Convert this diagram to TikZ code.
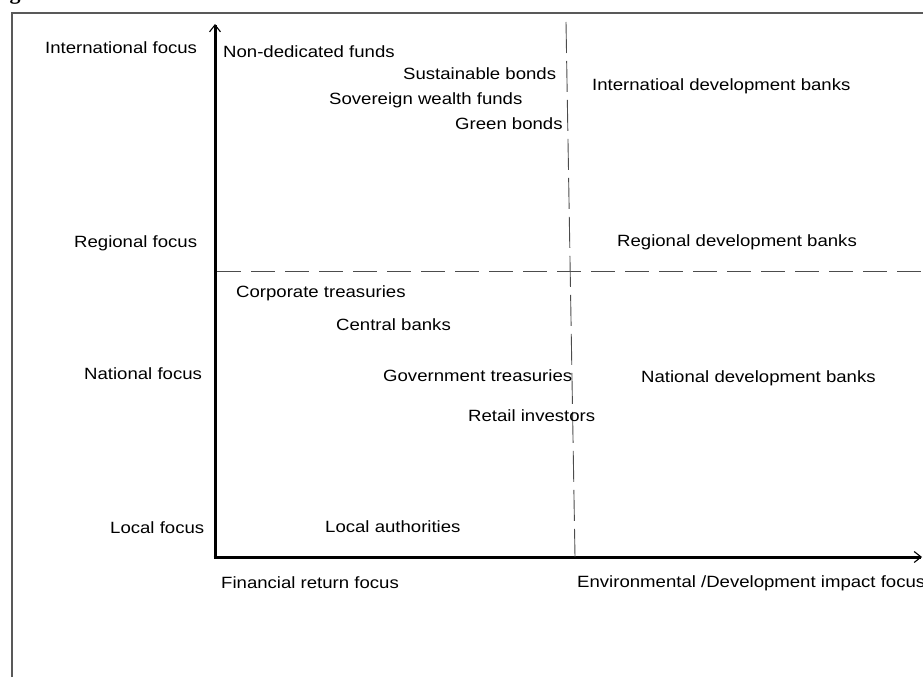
\documentclass[tikz,border=0pt]{standalone}
\usepackage{fontspec}
\setmainfont{Liberation Sans}
\newfontfamily\lblfont[FakeStretch=1.14]{Liberation Sans}
\newfontfamily\capfont{Liberation Serif}
\usetikzlibrary{arrows.meta}

\begin{document}
\begin{tikzpicture}[x=1pt,y=-1pt,
    lbl/.style={anchor=base west,inner sep=0pt,font=\lblfont\fontsize{16.3}{19}\selectfont},
    axisline/.style={line width=3pt,-{Straight Barb[length=7pt,width=11pt,line width=1.1pt]}},
    divider/.style={draw=black!70,line width=0.9pt}]
      \useasboundingbox (0,0) rectangle (923,677);
      % frame of the figure, cut at the page edge
        \draw[black!65,line width=1.4pt] (12,677) -- (12,13) -- (925,13);
        \node[anchor=base,inner sep=0pt,font=\capfont\bfseries\fontsize{22}{26}\selectfont] (cap) at (15,-0.5) {g};
      % axes
        \coordinate (origin) at (215,557);
        \coordinate (corner) at (213.5,557);
        \coordinate (ytip) at (215,24);
        \coordinate (xtip) at (922,557);
        \draw[axisline] (origin) -- (ytip);
        \draw[axisline] (corner) -- (xtip);
      % quadrant dividers
        \coordinate (vtop) at (566,22);
        \coordinate (vbot) at (575,557);
        \coordinate (hleft) at (217,271);
        \coordinate (hright) at (923,271);
        \draw[divider,dash pattern=on 31pt off 8pt] (vtop) -- (vbot);
        \draw[divider,dash pattern=on 24pt off 10pt] (hleft) -- (hright);
      % scale of the vertical axis
        \foreach \x/\y/\t/\n in {45/53/International focus/intl,
                                  74/247/Regional focus/reg,
                                  84/379/National focus/nat,
                                  110/533/Local focus/loc}
          \node[lbl] (\n) at (\x,\y) {\t};
      % scale of the horizontal axis
        \node[lbl] (finret) at (221,588) {Financial return focus};
        \node[lbl] (envdev) at (577,587) {Environmental /Development impact focus};
      % investors
        \node[lbl] (nondedicated) at (223,57) {Non-dedicated funds};
        \node[lbl] (sustbonds) at (403,79) {Sustainable bonds};
        \node[lbl] (swf) at (329,104) {Sovereign wealth funds};
        \node[lbl] (greenbonds) at (455,129) {Green bonds};
        \node[lbl] (intlbanks) at (592,90) {Internatioal development banks};
        \node[lbl] (regbanks) at (617,246) {Regional development banks};
        \node[lbl] (corptreas) at (236,297) {Corporate treasuries};
        \node[lbl] (centralbanks) at (336,330) {Central banks};
        \node[lbl] (govtreas) at (383,381) {Government treasuries};
        \node[lbl] (natbanks) at (641,382) {National development banks};
        \node[lbl] (retail) at (468,421) {Retail investors};
        \node[lbl] (localauth) at (325,532) {Local authorities};
      \end{tikzpicture}
\end{document}
